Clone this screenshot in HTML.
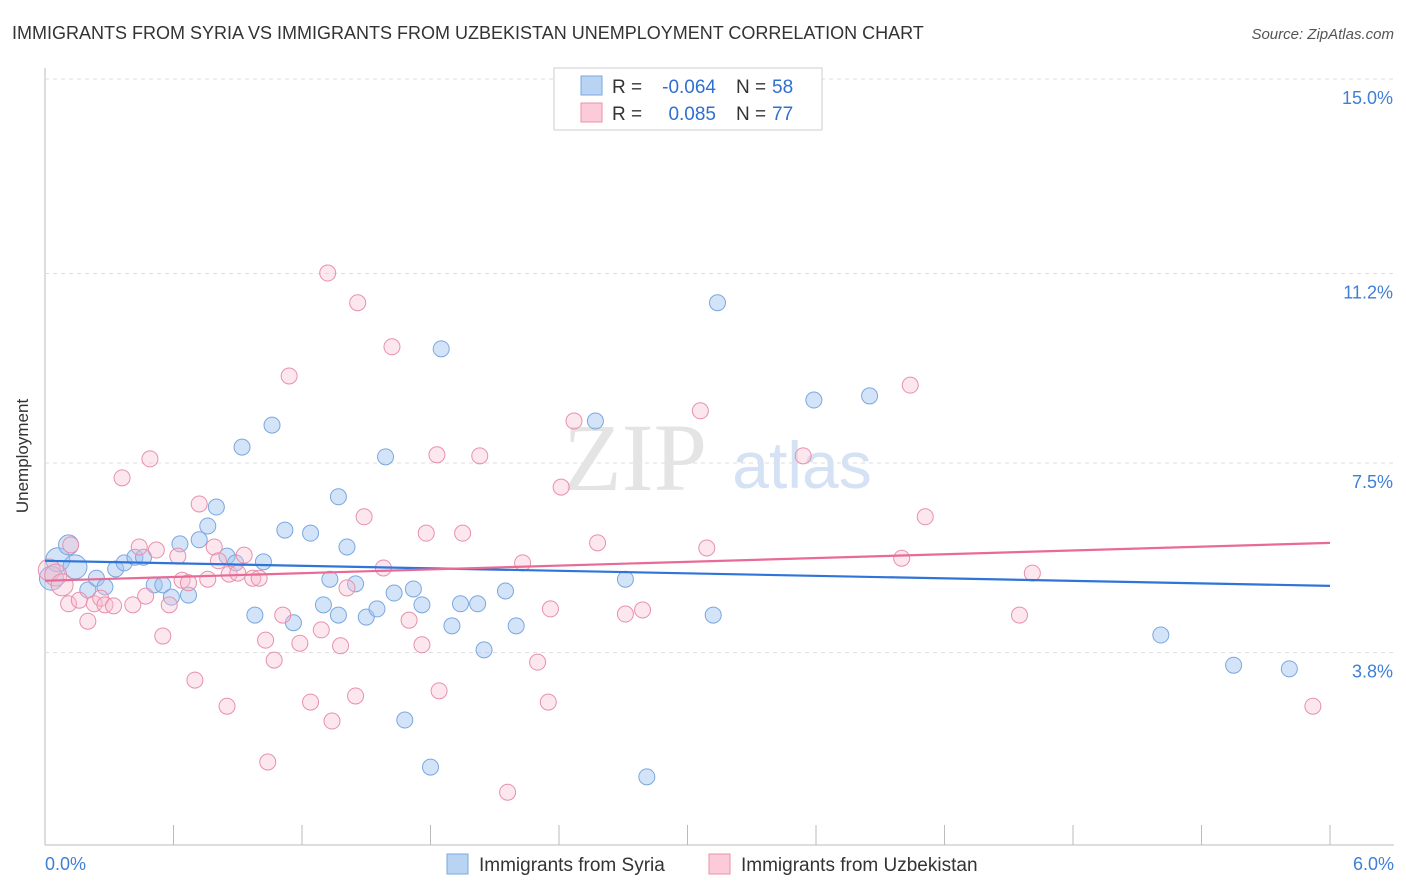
<!DOCTYPE html>
<html><head><meta charset="utf-8"><style>
body{margin:0;background:#fff;font-family:"Liberation Sans",sans-serif;}
svg{display:block}
</style></head><body>
<svg id="chart" width="1406" height="892" font-family="Liberation Sans, sans-serif">
<text x="12" y="39" font-size="18" fill="#333">IMMIGRANTS FROM SYRIA VS IMMIGRANTS FROM UZBEKISTAN UNEMPLOYMENT CORRELATION CHART</text>
<text x="1394" y="39" font-size="15" fill="#555" font-style="italic" text-anchor="end">Source: ZipAtlas.com</text>
<text x="28" y="456" font-size="17" fill="#333" text-anchor="middle" transform="rotate(-90 28 456)">Unemployment</text>
<g id="grid"></g>
<text x="635" y="490" font-size="96" fill="#e4e4e4" font-family="Liberation Serif, serif" text-anchor="middle">ZIP</text>
<text x="802" y="488" font-size="66" fill="#d5e2f4" text-anchor="middle">atlas</text>
<g id="points"></g>
<g id="trends"></g>
<g>
<rect x="554" y="68" width="268" height="62" fill="#fff" stroke="#ccc"/>
<rect x="581" y="76" width="21" height="19" fill="#b9d3f3" stroke="#7aa7e0"/>
<rect x="581" y="103" width="21" height="19" fill="#fbcbd9" stroke="#e890ab"/>
<text x="612" y="93" font-size="19" fill="#333">R =</text>
<text x="716" y="93" font-size="19" fill="#2f6fd0" text-anchor="end">-0.064</text>
<text x="736" y="93" font-size="19" fill="#333">N =</text>
<text x="772" y="93" font-size="19" fill="#2f6fd0">58</text>
<text x="612" y="120" font-size="19" fill="#333">R =</text>
<text x="716" y="120" font-size="19" fill="#2f6fd0" text-anchor="end">0.085</text>
<text x="736" y="120" font-size="19" fill="#333">N =</text>
<text x="772" y="120" font-size="19" fill="#2f6fd0">77</text>
</g>
<g>
<rect x="447" y="854" width="21" height="20" fill="#b9d3f3" stroke="#7aa7e0"/>
<text x="479" y="871" font-size="19" fill="#333">Immigrants from Syria</text>
<rect x="709" y="854" width="21" height="20" fill="#fbcbd9" stroke="#e890ab"/>
<text x="741" y="871" font-size="19" fill="#333">Immigrants from Uzbekistan</text>
</g>
</svg>
<script>
const yTicks=[3.8,7.5,11.2,15.0];
const yTickLabels=["3.8%","7.5%","11.2%","15.0%"];
const xTickCount=10;
const xLabels=["0.0%","6.0%"];
const syriaX=[.03,.06,.11,.14,.20,.24,.28,.33,.37,.42,.46,.51,.55,.59,.63,.67,.72,.76,.80,.85,.89,.92,.98,1.02,1.06,1.12,1.16,1.24,1.30,1.33,1.37,1.37,1.41,1.45,1.50,1.55,1.59,1.63,1.68,1.72,1.76,1.80,1.85,1.90,1.94,2.02,2.05,2.15,2.20,2.57,2.71,2.81,3.12,3.14,3.59,3.85,5.21,5.55,5.81];
const syriaY=[5.25,5.61,5.90,5.47,5.02,5.25,5.08,5.43,5.55,5.66,5.66,5.12,5.12,4.88,5.92,4.92,6.00,6.27,6.64,5.68,5.55,7.81,4.53,5.57,8.24,6.19,4.38,6.13,4.73,5.23,6.84,4.53,5.86,5.14,4.49,4.65,7.62,4.96,2.48,5.04,4.73,1.56,9.73,4.32,4.75,4.75,3.85,5.00,4.32,8.32,5.23,1.37,4.53,10.63,8.73,8.81,4.14,3.55,3.48];
const uzbX=[.02,.05,.08,.12,.11,.16,.20,.23,.26,.28,.32,.36,.41,.44,.47,.49,.52,.55,.58,.62,.64,.67,.70,.72,.76,.79,.81,.85,.86,.90,.93,.97,1.00,1.03,1.04,1.07,1.11,1.14,1.19,1.24,1.29,1.32,1.34,1.38,1.41,1.45,1.46,1.49,1.58,1.62,1.70,1.76,1.78,1.83,1.84,1.95,2.03,2.16,2.23,2.30,2.35,2.36,2.41,2.47,2.58,2.71,2.79,3.06,3.09,3.54,4.00,4.04,4.11,4.55,4.61,5.92];
const uzbY=[5.41,5.31,5.12,5.90,4.75,4.82,4.41,4.75,4.86,4.73,4.71,7.21,4.73,5.86,4.90,7.58,5.80,4.12,4.73,5.68,5.21,5.16,3.26,6.70,5.23,5.86,5.59,2.75,5.33,5.35,5.70,5.25,5.25,4.04,1.66,3.65,4.53,9.20,3.98,2.83,4.24,11.21,2.46,3.93,5.06,2.95,10.63,6.45,5.45,9.77,4.43,3.95,6.13,7.66,3.05,6.13,7.64,1.07,5.55,3.61,2.83,4.65,7.03,8.32,5.94,4.55,4.63,8.52,5.84,7.64,5.64,9.02,6.45,4.53,5.35,2.75];
const syriaTrend=[5.59,5.10];
const uzbTrend=[5.20,5.94];
const NS="http://www.w3.org/2000/svg";
const X=v=>45+v*214.17, Y=v=>847-v*51.2;
function mk(tag,attrs,parent){const e=document.createElementNS(NS,tag);for(const k in attrs)e.setAttribute(k,attrs[k]);parent.appendChild(e);return e;}
const grid=document.getElementById('grid');
let ax=mk('line',{x1:45,y1:68,x2:45,y2:845,stroke:'#bbb'},grid);


let bx=mk('line',{x1:45,y1:845,x2:1394,y2:845,stroke:'#bbb'},grid);


yTicks.forEach((t,i)=>{
 const y=t===15.0?79:Y(t);
 let g=mk('line',{x1:45,y1:y,x2:1394,y2:y,stroke:'#ddd','stroke-dasharray':'4,4'},grid);
 
 
 let tx=mk('text',{x:1393,y:y+25,'font-size':18,fill:'#3f7fd6','text-anchor':'end'},grid);
 tx.textContent=yTickLabels[i];
 
 
});
for(let i=1;i<=xTickCount;i++){
 const x=X(i*0.6);
 let t=mk('line',{x1:x,y1:825,x2:x,y2:845,stroke:'#bbb'},grid);
 
 
}
let l0=mk('text',{x:45,y:870,'font-size':18,fill:'#3f7fd6'},grid);l0.textContent=xLabels[0];


let l1=mk('text',{x:1394,y:870,'font-size':18,fill:'#3f7fd6','text-anchor':'end'},grid);l1.textContent=xLabels[1];


const pts=document.getElementById('points');
syriaX.forEach((v,i)=>{
 const r=i<4&&i!==2?12:(i===2?10:8);
 let c=mk('circle',{cx:X(v),cy:Y(syriaY[i]),r:r,fill:'rgba(160,196,240,0.45)',stroke:'#7aa7e0','stroke-width':1},pts);
 
 
});
uzbX.forEach((v,i)=>{
 const r=i<3?11:8;
 let c=mk('circle',{cx:X(v),cy:Y(uzbY[i]),r:r,fill:'rgba(248,185,205,0.35)',stroke:'#e890ab','stroke-width':1},pts);
 
 
});
const tr=document.getElementById('trends');
let t1=mk('line',{x1:X(0),y1:Y(syriaTrend[0]),x2:X(6),y2:Y(syriaTrend[1]),stroke:'#2f74d8','stroke-width':2.2},tr);


let t2=mk('line',{x1:X(0),y1:Y(uzbTrend[0]),x2:X(6),y2:Y(uzbTrend[1]),stroke:'#e86b96','stroke-width':2.2},tr);


</script>
</body></html>
